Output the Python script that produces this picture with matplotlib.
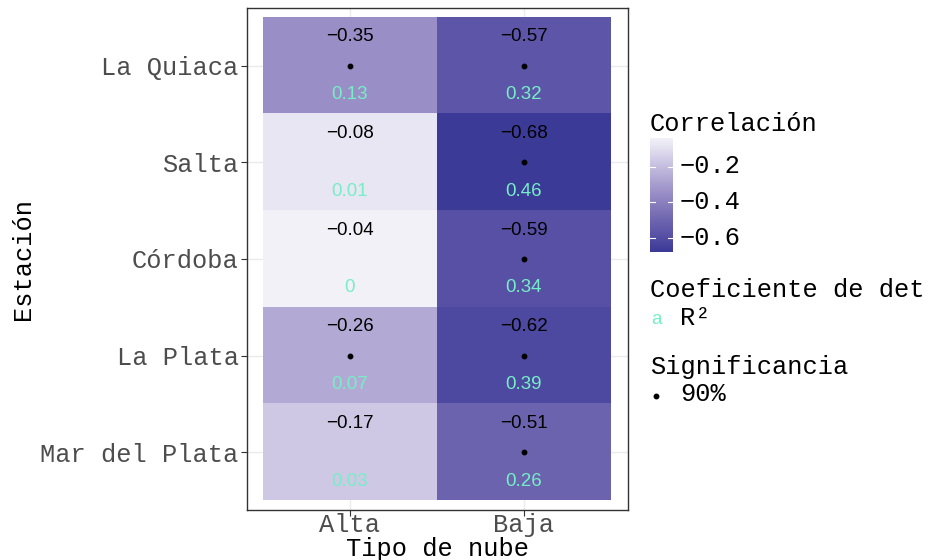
import matplotlib
matplotlib.use("Agg")
import numpy as np
import matplotlib.pyplot as plt
from matplotlib.colors import LinearSegmentedColormap

stations = ["La Quiaca", "Salta", "Córdoba", "La Plata", "Mar del Plata"]
cloud_types = ["Alta", "Baja"]
corr_alta = [-0.35, -0.08, -0.04, -0.26, -0.17]
corr_baja = [-0.57, -0.68, -0.59, -0.62, -0.51]
r2_alta = [0.13, 0.01, 0, 0.07, 0.03]
r2_baja = [0.32, 0.46, 0.34, 0.39, 0.26]
sig_alta = [True, False, False, True, False]
sig_baja = [True, True, True, True, True]
cbar_ticks = [-0.2, -0.4, -0.6]

mono = "Liberation Mono"
sans = "Liberation Sans"
fs = 18.3
cell_fs = 13.5
r2_color = "#76EEC6"

corr = np.column_stack([corr_alta, corr_baja])
r2 = np.column_stack([r2_alta, r2_baja])
sig = np.column_stack([sig_alta, sig_baja])
vmin, vmax = corr.min(), corr.max()

cmap = LinearSegmentedColormap.from_list("corr", [
    (0.0, "#3B3A97"), (0.17, "#5D55A8"), (0.27, "#6C64AE"),
    (0.52, "#9B8FC7"), (0.66, "#B3ABD5"), (0.80, "#CEC8E5"),
    (0.94, "#E8E6F2"), (1.0, "#F2F1F8")])

def minus(s):
    return s.replace("-", "\u2212")

fig = plt.figure(figsize=(9.33, 5.6), dpi=100)
ax = fig.add_axes([247 / 933, 50 / 560, 381 / 933, 502 / 560])

n = len(stations)
ax.imshow(corr, cmap=cmap, vmin=vmin, vmax=vmax, origin="upper",
          extent=(-0.5, 1.5, -0.5, n - 0.5), aspect="auto", zorder=2,
          interpolation="nearest")
ax.set_xlim(-0.59, 1.6)
ax.set_ylim(-0.6, n - 0.4)

for i in range(n):
    y = n - 1 - i
    for j in range(len(cloud_types)):
        ax.text(j, y + 0.3, minus(f"{corr[i, j]:.2f}"), ha="center", va="center",
                fontsize=cell_fs, family=sans, color="black", zorder=3)
        ax.text(j, y - 0.3, f"{r2[i, j]:g}", ha="center", va="center",
                fontsize=cell_fs, family=sans, color=r2_color, zorder=3)
        if sig[i, j]:
            ax.plot(j, y, "o", color="black", markersize=3.2, zorder=3)

ax.set_xticks(range(len(cloud_types)))
ax.set_xticklabels(cloud_types)
ax.set_yticks([n - 1 - i for i in range(n)])
ax.set_yticklabels(stations)
ax.tick_params(length=4, width=0.8, color="#333333", labelcolor="#4D4D4D",
               labelsize=fs)
ax.tick_params(axis="x", pad=-2)
ax.tick_params(axis="y", pad=2)
for lab in ax.get_xticklabels() + ax.get_yticklabels():
    lab.set_family(mono)
ax.set_axisbelow(True)
ax.grid(True, color="#EBEBEB", linewidth=1.0, zorder=0)
for sp in ax.spines.values():
    sp.set_color("#333333")
    sp.set_linewidth(1.0)

ax.set_xlabel("Tipo de nube", family=mono, fontsize=fs, color="black", labelpad=0)
ax.set_ylabel("Estación", family=mono, fontsize=fs, color="black", labelpad=4)

# colour bar legend
fig.text(650 / 933, 1 - 124 / 560, "Correlación", family=mono, fontsize=fs,
         va="center", ha="left")
cax = fig.add_axes([650 / 933, 1 - 252 / 560, 23 / 933, 114 / 560])
grad = np.linspace(vmax, vmin, 200).reshape(-1, 1)
cax.imshow(grad, cmap=cmap, vmin=vmin, vmax=vmax, aspect="auto",
           extent=(0, 1, vmin, vmax), origin="upper")
cax.set_xlim(0, 1)
cax.set_ylim(vmin, vmax)
cax.set_xticks([])
cax.set_yticks([])
for sp in cax.spines.values():
    sp.set_visible(False)
for t in cbar_ticks:
    cax.plot([0, 0.2], [t, t], color="white", lw=0.8)
    cax.plot([0.8, 1], [t, t], color="white", lw=0.8)
    y_fig = (1 - 252 / 560) + (t - vmin) / (vmax - vmin) * 114 / 560
    fig.text(680 / 933, y_fig, minus(f"{t:.1f}"), family=mono, fontsize=fs,
             va="center", ha="left")

# R² legend (title is cut at the figure edge in the reference)
fig.text(650 / 933, 1 - 290 / 560, "Coeficiente de det", family=mono,
         fontsize=fs, va="center", ha="left")
fig.text(656 / 933, 1 - 320 / 560, "a", family=sans, fontsize=cell_fs,
         color=r2_color, va="center", ha="center")
fig.text(680 / 933, 1 - 318 / 560, "R²", family=mono, fontsize=fs,
         va="center", ha="left")

# significance legend
fig.text(650 / 933, 1 - 367 / 560, "Significancia", family=mono, fontsize=fs,
         va="center", ha="left")
fig.text(680 / 933, 1 - 394 / 560, "90%", family=mono, fontsize=fs,
         va="center", ha="left")
fig.add_artist(plt.Line2D([656 / 933], [1 - 396 / 560], marker="o",
                          color="black", markersize=3.2,
                          transform=fig.transFigure))

fig.savefig("out.png", dpi=100, facecolor="white")
